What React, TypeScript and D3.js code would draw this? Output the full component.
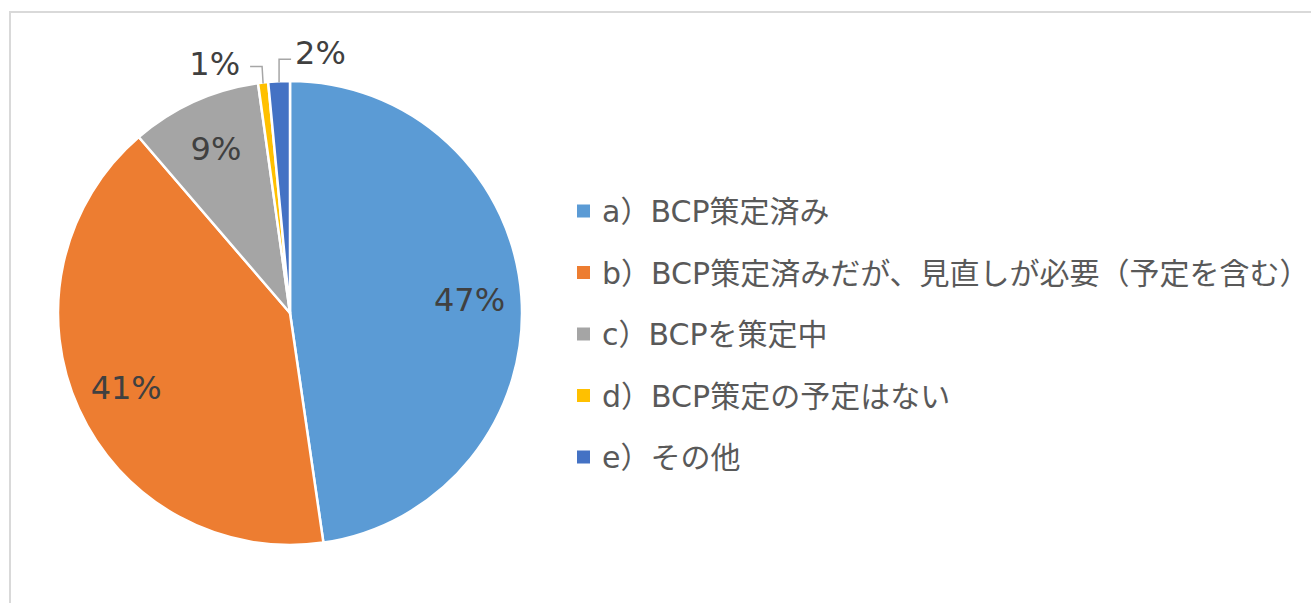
import React from 'react';
import * as d3 from 'd3';

const categories = [
  'a）BCP策定済み',
  'b）BCP策定済みだが、見直しが必要（予定を含む）',
  'c）BCPを策定中',
  'd）BCP策定の予定はない',
  'e）その他',
];
const values = [47.7, 41.0, 9.1, 0.7, 1.5];
const labels = ['47%', '41%', '9%', '1%', '2%'];
const colors = ['#5B9BD5', '#ED7D31', '#A5A5A5', '#FFC000', '#4472C4'];

const W = 1311;
const H = 603;
const CX = 290;
const CY = 313;
const R = 232;
const LABEL_R = 180;
const FONT = '"DejaVu Sans", "Noto Sans CJK JP", sans-serif';

export default function App() {
  const pie = d3.pie<number>().sort(null).value((d) => d);
  const arcs = pie(values);
  const arcGen = d3.arc<d3.PieArcDatum<number>>().innerRadius(0).outerRadius(R);
  const labelArc = d3.arc<d3.PieArcDatum<number>>().innerRadius(LABEL_R).outerRadius(LABEL_R);

  const legendY = d3.scalePoint<number>().domain(d3.range(categories.length)).range([211, 457]);

  let smallCount = 0;

  return (
    <svg width={W} height={H} style={{ position: 'absolute', left: 0, top: 0 }} fontFamily={FONT}>
      <rect x={0} y={0} width={W} height={H} fill="#ffffff" />
      <rect x={10} y={12} width={W + 20} height={H + 20} fill="none" stroke="#d9d9d9" strokeWidth={2} />
      <g transform={`translate(${CX},${CY})`}>
        {arcs.map((a, i) => (
          <path key={i} d={arcGen(a) || ''} fill={colors[i]} stroke="#ffffff" strokeWidth={2.5} strokeLinejoin="round" />
        ))}
        {arcs.map((a, i) => {
          const small = a.value < 3;
          if (!small) {
            const [x, y] = labelArc.centroid(a);
            return (
              <text key={'l' + i} x={x} y={y} textAnchor="middle" dominantBaseline="central" fontSize={32} fill="#404040">
                {labels[i]}
              </text>
            );
          }
          const mid = (a.startAngle + a.endAngle) / 2;
          const ex = R * Math.sin(mid);
          const ey = -R * Math.cos(mid) + 1;
          const left = smallCount % 2 === 0;
          smallCount++;
          const up = left ? 17 : 23;
          const elbowY = ey - up;
          const hx = left ? ex - 13 : ex + 12;
          const pts = `${ex},${ey} ${ex - (left ? 1 : 0)},${elbowY} ${hx},${elbowY}`;
          return (
            <g key={'l' + i}>
              <polyline points={pts} fill="none" stroke="#a6a6a6" strokeWidth={1.5} />
              <text
                x={left ? hx - 10 : hx + 4}
                y={elbowY + (left ? 8 : 5)}
                textAnchor={left ? 'end' : 'start'}
                fontSize={32}
                fill="#404040"
              >
                {labels[i]}
              </text>
            </g>
          );
        })}
      </g>
      <g>
        {categories.map((c, i) => {
          const y = legendY(i) as number;
          return (
            <g key={'lg' + i}>
              <rect x={577} y={y - 6.5} width={13} height={13} fill={colors[i]} />
              <text x={602} y={y + 11} fontSize={30} fill="#595959">
                {c}
              </text>
            </g>
          );
        })}
      </g>
    </svg>
  );
}
